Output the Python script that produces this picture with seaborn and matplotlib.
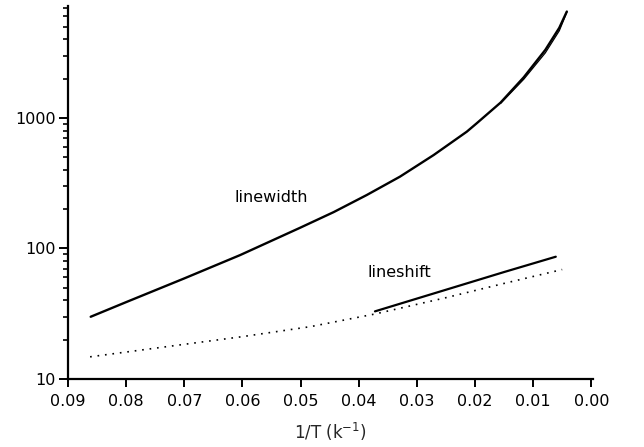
import numpy as np
import pandas as pd
import matplotlib
matplotlib.use("Agg")
import matplotlib.pyplot as plt
import seaborn as sns
from matplotlib.ticker import LogLocator, NullFormatter, FixedLocator, FuncFormatter

# ---- data ----
lw_x = [0.0861, 0.0799, 0.0700, 0.0604, 0.0501, 0.0443, 0.0386, 0.0329, 0.0271,
        0.0214, 0.0197, 0.0156, 0.0116, 0.0079, 0.0055, 0.0042]
lw_y = [30, 39, 59, 89, 144, 190, 257, 355, 520,
        785, 910, 1310, 2050, 3320, 4900, 6530]

lw2_x = [0.0156, 0.0116, 0.0079, 0.0055, 0.0042]
lw2_y = [1290, 1980, 3150, 4650, 6450]

ls_x = [0.0372, 0.0250, 0.0150, 0.0061]
ls_y = [33, 48.3, 66, 86.5]

dot_x = [0.0862, 0.0702, 0.0601, 0.0483, 0.0372, 0.0250, 0.0150, 0.0050]
dot_y = [14.8, 18.4, 21.1, 25.2, 31.5, 42, 54, 69]

x_ticks = [0.09, 0.08, 0.07, 0.06, 0.05, 0.04, 0.03, 0.02, 0.01, 0.00]
y_ticks = [10, 100, 1000]
x_label = "1/T (k$^{-1}$)"
annotations = [("linewidth", 0.0551, 244), ("lineshift", 0.0330, 65)]

sns.set_style("ticks")
plt.rcParams["font.family"] = ["DejaVu Sans"]
plt.rcParams["mathtext.fontset"] = "dejavusans"

fig = plt.figure(figsize=(6.44, 4.47), dpi=100)
ax = fig.add_axes([0.1056, 0.152, 0.8152, 0.8346])

df_lw = pd.DataFrame({"x": lw_x, "y": lw_y})
df_lw2 = pd.DataFrame({"x": lw2_x, "y": lw2_y})
df_ls = pd.DataFrame({"x": ls_x, "y": ls_y})
df_dot = pd.DataFrame({"x": dot_x, "y": dot_y})

sns.lineplot(data=df_lw, x="x", y="y", ax=ax, color="black", lw=1.7, sort=False, estimator=None)
sns.lineplot(data=df_lw2, x="x", y="y", ax=ax, color="black", lw=0.9, sort=False, estimator=None)
sns.lineplot(data=df_ls, x="x", y="y", ax=ax, color="black", lw=1.6, sort=False, estimator=None)
sns.lineplot(data=df_dot, x="x", y="y", ax=ax, color="black", lw=1.2, sort=False, estimator=None,
             linestyle=(0, (1, 3.5)))

ax.set_yscale("log")
ax.set_xlim(0.09, -0.0003)
ax.set_ylim(10, 7200)

ax.xaxis.set_major_locator(FixedLocator(x_ticks))
ax.xaxis.set_major_formatter(FuncFormatter(lambda v, p: f"{abs(v):.2f}"))
ax.yaxis.set_major_locator(FixedLocator(y_ticks))
ax.yaxis.set_major_formatter(FuncFormatter(lambda v, p: f"{int(round(v))}"))
ax.yaxis.set_minor_locator(LogLocator(base=10, subs=np.arange(2, 10)))
ax.yaxis.set_minor_formatter(NullFormatter())

ax.tick_params(axis="x", which="major", direction="out", length=6, width=1.4,
               labelsize=11.5, color="black", labelcolor="black", pad=5)
ax.tick_params(axis="y", which="major", direction="out", length=6.5, width=1.4,
               labelsize=11.5, color="black", labelcolor="black", pad=2.5)
ax.tick_params(axis="y", which="minor", direction="out", length=3.6, width=1.2, color="black")

for s in ["top", "right"]:
    ax.spines[s].set_visible(False)
for s in ["left", "bottom"]:
    ax.spines[s].set_linewidth(1.6)
    ax.spines[s].set_color("black")

ax.set_xlabel(x_label, fontsize=12, labelpad=8)
ax.set_ylabel("")

for txt, xv, yv in annotations:
    ax.text(xv, yv, txt, fontsize=11.5, ha="center", va="center", color="black")

if ax.legend_:
    ax.legend_.remove()
fig.savefig("out.png", dpi=100)
